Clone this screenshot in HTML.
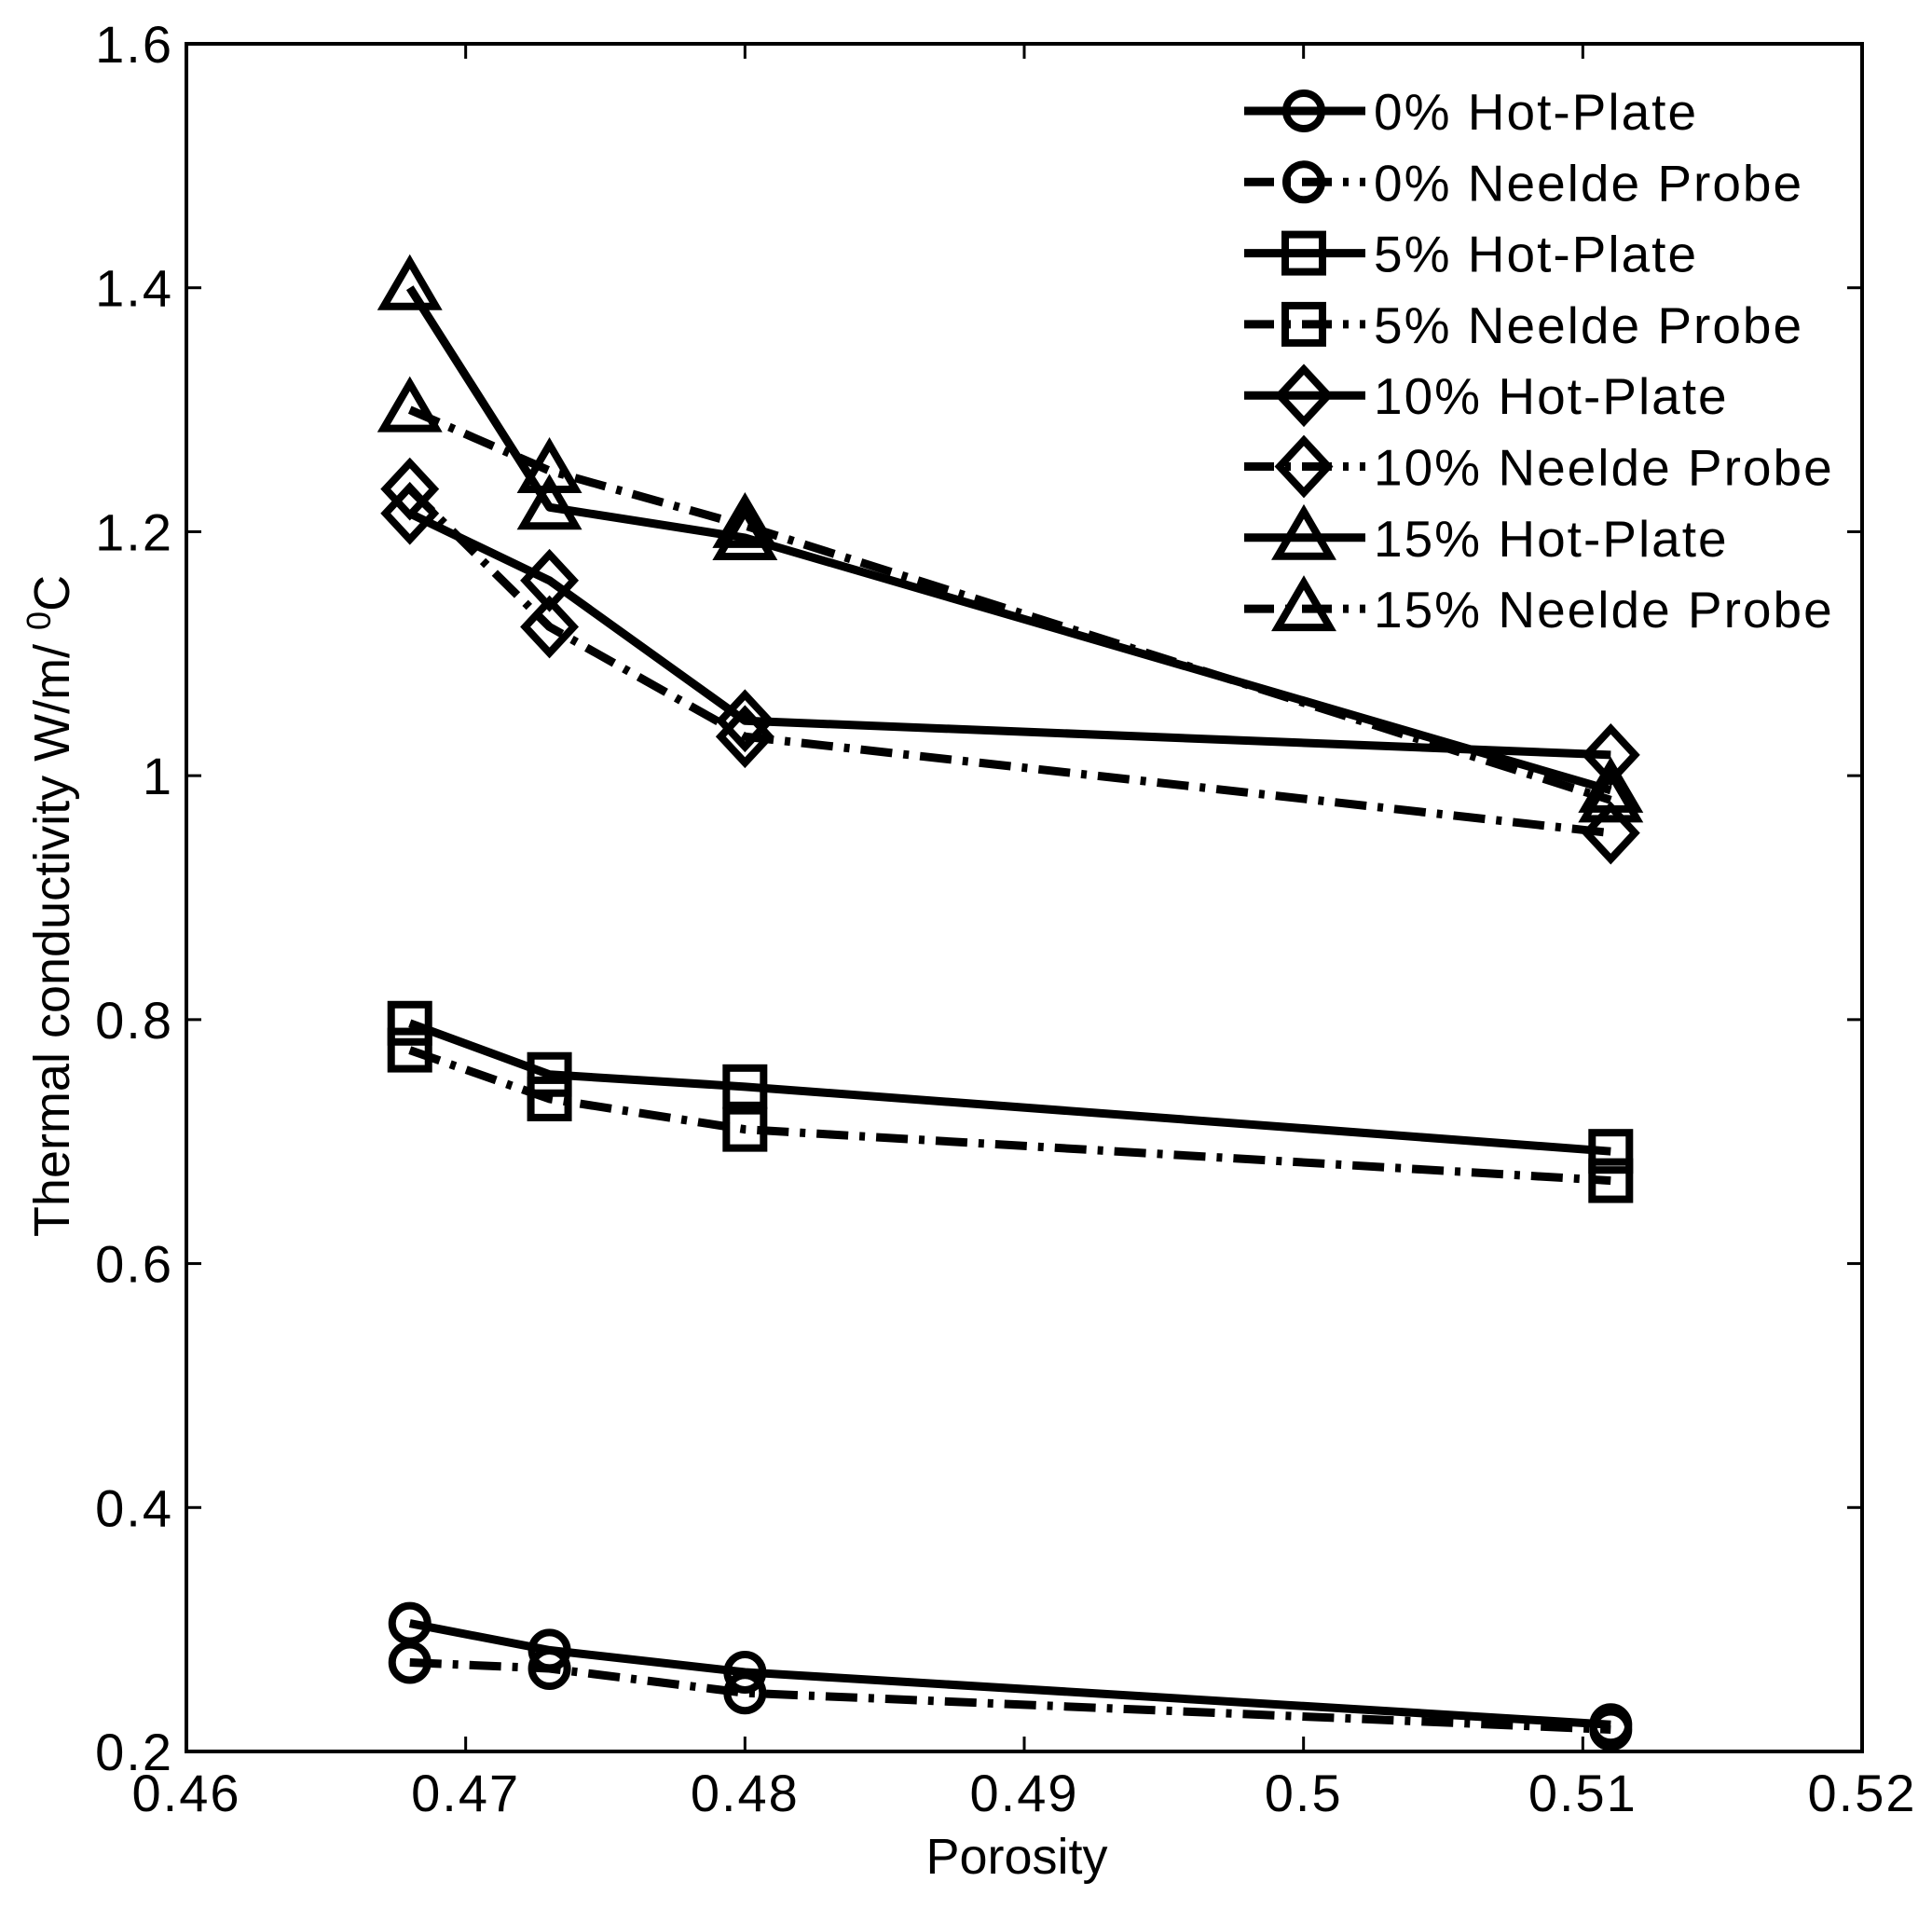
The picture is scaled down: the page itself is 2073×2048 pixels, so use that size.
<!DOCTYPE html>
<html><head><meta charset="utf-8"><style>
html,body{margin:0;padding:0;background:#fff}
svg{display:block}
text{font-family:"Liberation Sans",sans-serif;fill:#000}
</style></head><body>
<svg id="chart" width="2073" height="2048" viewBox="0 0 2073 2048" xmlns="http://www.w3.org/2000/svg">
<g id="plot"></g>
</svg>
<script>
const xValues=[0.468,0.473,0.48,0.511];
const seriesNames=["0% Hot-Plate","0% Neelde Probe","5% Hot-Plate","5% Neelde Probe","10% Hot-Plate","10% Neelde Probe","15% Hot-Plate","15% Neelde Probe"];
const s0hp=[0.305,0.283,0.265,0.222];
const s0np=[0.273,0.268,0.248,0.218];
const s5hp=[0.797,0.755,0.745,0.692];
const s5np=[0.775,0.735,0.710,0.668];
const s10hp=[1.215,1.160,1.045,1.017];
const s10np=[1.235,1.122,1.032,0.953];
const s15hp=[1.400,1.220,1.195,0.988];
const s15np=[1.300,1.250,1.205,0.980];
const xTicks=[0.46,0.47,0.48,0.49,0.5,0.51,0.52];
const xTickLabels=["0.46","0.47","0.48","0.49","0.5","0.51","0.52"];
const yTicks=[0.2,0.4,0.6,0.8,1.0,1.2,1.4,1.6];
const yTickLabels=["0.2","0.4","0.6","0.8","1","1.2","1.4","1.6"];

const L=200,R=1998,T=47,B=1879;
const X=v=>L+(v-0.46)/(0.06)*(R-L);
const Y=v=>B-(v-0.2)/(1.4)*(B-T);
const NS="http://www.w3.org/2000/svg";
const g=document.getElementById('plot');
function mk(tag,attrs,parent){const e=document.createElementNS(NS,tag);for(const k in attrs)e.setAttribute(k,attrs[k]);(parent||g).appendChild(e);return e;}

const series=[
 {v:s0hp,m:'circle',dash:null},{v:s0np,m:'circle',dash:'34 12 6 12'},
 {v:s5hp,m:'square',dash:null},{v:s5np,m:'square',dash:'34 12 6 12'},
 {v:s10hp,m:'diamond',dash:null},{v:s10np,m:'diamond',dash:'34 12 6 12'},
 {v:s15hp,m:'triangle',dash:null},{v:s15np,m:'triangle',dash:'34 12 6 12'}];

function marker(kind,cx,cy,parent){
 const st={fill:'none',stroke:'#000','stroke-width':8};
 let e;
 if(kind==='circle')e=mk('circle',Object.assign({cx:cx,cy:cy,r:19},st),parent);
 else if(kind==='square')e=mk('rect',Object.assign({x:cx-20,y:cy-20,width:40,height:40},st),parent);
 else if(kind==='diamond')e=mk('polygon',Object.assign({points:`${cx},${cy-28} ${cx+26},${cy} ${cx},${cy+28} ${cx-26},${cy}`},st),parent);
 else e=mk('polygon',Object.assign({points:`${cx},${cy-28} ${cx+28},${cy+20} ${cx-28},${cy+20}`},st),parent);
 return e;
}

const box=mk('rect',{x:L,y:T,width:R-L,height:B-T,fill:'none',stroke:'#000','stroke-width':4});



xTicks.forEach((t,i)=>{
 const x=X(t);
 const a=mk('line',{x1:x,y1:B,x2:x,y2:B-16,stroke:'#000','stroke-width':3});
 
 
 const b=mk('line',{x1:x,y1:T,x2:x,y2:T+16,stroke:'#000','stroke-width':3});
 
 
 const tx=mk('text',{x:x,y:1943,'font-size':56,'letter-spacing':2,'text-anchor':'middle'});
 tx.textContent=xTickLabels[i];
 
 
});
yTicks.forEach((t,i)=>{
 const y=Y(t);
 const a=mk('line',{x1:L,y1:y,x2:L+16,y2:y,stroke:'#000','stroke-width':3});
 
 
 const b=mk('line',{x1:R,y1:y,x2:R-16,y2:y,stroke:'#000','stroke-width':3});
 
 
 const tx=mk('text',{x:186,y:y+20,'font-size':56,'letter-spacing':2,'text-anchor':'end'});
 tx.textContent=yTickLabels[i];
 
 
});

const xt=mk('text',{x:1091,y:2010,'font-size':54,'text-anchor':'middle'});
xt.textContent='Porosity';


const yt=mk('text',{x:0,y:0,'font-size':54,'text-anchor':'middle',transform:'translate(74,972) rotate(-90)'});
yt.innerHTML='Thermal conductivity W/m/ <tspan dy="-20" font-size="36">0</tspan><tspan dy="20">C</tspan>';



series.forEach((s,si)=>{
 const sg=mk('g',{});
 
 
 const pts=s.v.map((v,i)=>X(xValues[i])+','+Y(v)).join(' ');
 const attrs={points:pts,fill:'none',stroke:'#000','stroke-width':9,'stroke-linejoin':'round'};
 if(s.dash)attrs['stroke-dasharray']=s.dash;
 const pl=mk('polyline',attrs,sg);
 
 
 s.v.forEach((v,i)=>{
  const m=marker(s.m,X(xValues[i]),Y(v),sg);
  
  
 });
});

const lg=mk('g',{});


series.forEach((s,si)=>{
 const y=119+si*76.3;
 const eg=mk('g',{},lg);
 
 
 const la={x1:1335,y1:y,x2:1465,y2:y,stroke:'#000','stroke-width':9};
 if(s.dash)la['stroke-dasharray']='32 12 6 12';
 const ln=mk('line',la,eg);
 
 
 const m=marker(s.m,1399,y,eg);
 
 
 const tx=mk('text',{x:1474,y:y+20,'font-size':55,'letter-spacing':2},eg);
 tx.textContent=seriesNames[si];
 
 
});
</script>
</body></html>
